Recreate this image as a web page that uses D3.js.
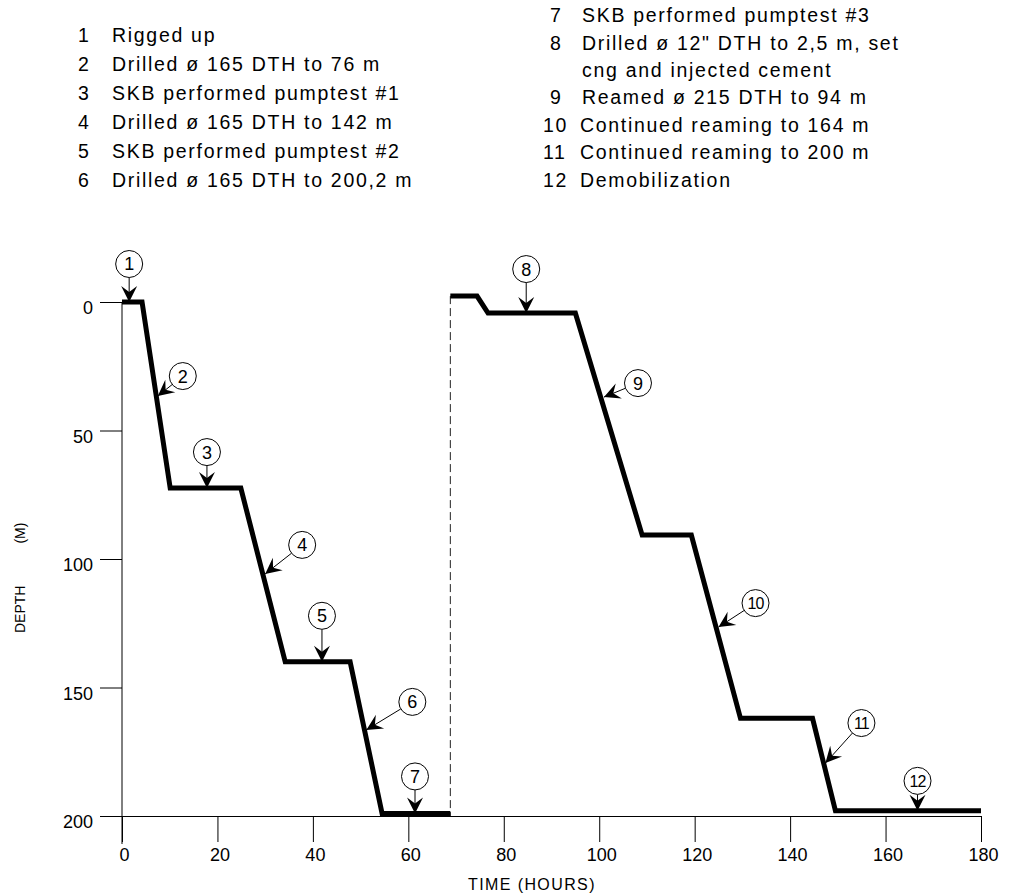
<!DOCTYPE html>
<html>
<head>
<meta charset="utf-8">
<script src="https://cdn.jsdelivr.net/npm/d3@7"></script>
<style>
  body { margin: 0; background: #fff; }
  svg { font-family: "Liberation Sans", Arial, sans-serif; }
  .axis path, .axis line { stroke: #000; stroke-width: 1; }
  .axis text { font-size: 18px; fill: #000; }
  .legend text { font-size: 19.5px; letter-spacing: 1.7px; fill: #000; }
</style>
</head>
<body>
<div id="chart"></div>
<script>
// drilling progress, first hole (left) and reaming (right)
var timeA  = [0, 4.2, 10.1, 24.9, 34.2, 47.8, 54.5, 68.8];
var depthA = [0, 0, 72.4, 72.4, 140, 140, 199, 199];
var timeB  = [68.8, 74.4, 76.7, 95, 109, 119.3, 129.6, 144.7, 149.5, 180];
var depthB = [-2.3, -2.3, 4.3, 4.3, 90.7, 90.7, 162, 162, 198, 198];

// numbered event markers (arrow tip on the curve)
var markerNum   = [1, 2, 3, 4, 5, 6, 7, 8, 9, 10, 11, 12];
var markerTime  = [1.5, 7.5, 17.8, 30, 41.9, 51.2, 61.4, 84.7, 101, 125, 147.4, 166.7];
var markerDepth = [0, 36.6, 72.4, 105.8, 140, 166.5, 199, 4.3, 37, 126.5, 179.4, 198];
// where the circle sits relative to the tip (pixels)
var markerOffX = [0, 25, 0, 37, 0, 46, 0, 0, 34, 37, 36, 0];
var markerOffY = [-38, -20, -36, -29, -46, -28, -37, -44, -14, -24, -40, -30];

var legendLeft = [
  "Rigged up",
  "Drilled ø 165 DTH to 76 m",
  "SKB performed pumptest #1",
  "Drilled ø 165 DTH to 142 m",
  "SKB performed pumptest #2",
  "Drilled ø 165 DTH to 200,2 m"
];
var legendRight = [
  "SKB performed pumptest #3",
  "Drilled ø 12\" DTH to 2,5 m, set",
  "cng and injected cement",
  "Reamed ø 215 DTH to 94 m",
  "Continued reaming to 164 m",
  "Continued reaming to 200 m",
  "Demobilization"
];
var legendRightNum = ["7", "8", "", "9", "10", "11", "12"];

var xTicks = [0, 20, 40, 60, 80, 100, 120, 140, 160, 180];
var yTicks = [0, 50, 100, 150, 200];

var margin = {top: 302, right: 30, bottom: 77, left: 122},
    width = 1011 - margin.left - margin.right,
    height = 893 - margin.top - margin.bottom;

var svg = d3.select("#chart").append("svg")
    .attr("width", 1011)
    .attr("height", 893);

// legend
var legL = svg.append("g").attr("class", "legend");
legendLeft.forEach(function(t, i) {
  var yy = 42 + i * 29;
  legL.append("text").attr("x", 78).attr("y", yy).text(i + 1);
  legL.append("text").attr("x", 112).attr("y", yy).text(t);
});
var rightBase = [22, 50, 77, 104, 132, 159, 187];
legendRight.forEach(function(t, i) {
  var yy = rightBase[i];
  var n = legendRightNum[i];
  if (n) legL.append("text").attr("x", n.length === 2 ? 543 : 550).attr("y", yy).text(n);
  legL.append("text").attr("x", n.length === 2 ? 580 : 582).attr("y", yy).text(t);
});

var g = svg.append("g")
    .attr("transform", "translate(" + margin.left + "," + margin.top + ")");

var x = d3.scaleLinear().domain([0, 180]).range([0, width]);
var y = d3.scaleLinear().domain([0, 200]).range([0, height]);

// axes
g.append("g")
    .attr("class", "axis")
    .attr("transform", "translate(0," + height + ")")
    .call(d3.axisBottom(x).tickValues(xTicks).tickSize(26).tickSizeOuter(0).tickPadding(6))
    .selectAll("text").attr("dx", "2px");

var yAx = g.append("g")
    .attr("class", "axis")
    .call(d3.axisLeft(y).tickValues(yTicks).tickSize(22).tickPadding(7));
yAx.select(".domain").remove();
yAx.selectAll("text").attr("dy", "0.65em");
g.append("line")
    .attr("x1", 0).attr("x2", 0)
    .attr("y1", y(0)).attr("y2", height + 28)
    .attr("stroke", "#000");

// dashed divider between the two runs
g.append("line")
    .attr("x1", x(timeB[0])).attr("x2", x(timeB[0]))
    .attr("y1", y(depthB[0])).attr("y2", y(200))
    .attr("stroke", "#222")
    .attr("stroke-dasharray", "8,4");

var line = d3.line()
    .x(function(d) { return x(d[0]); })
    .y(function(d) { return y(d[1]); });

[[timeA, depthA], [timeB, depthB]].forEach(function(s) {
  g.append("path")
      .datum(d3.zip(s[0], s[1]))
      .attr("fill", "none")
      .attr("stroke", "#000")
      .attr("stroke-width", 5)
      .attr("stroke-linejoin", "miter")
      .attr("d", line);
});

// markers
var r = 13.5;
markerNum.forEach(function(n, i) {
  var tx = x(markerTime[i]), ty = y(markerDepth[i]);
  var cx = tx + markerOffX[i], cy = ty + markerOffY[i];
  var ang = Math.atan2(ty - cy, tx - cx);
  var sx = cx + r * Math.cos(ang), sy = cy + r * Math.sin(ang);
  var m = g.append("g");
  m.append("line")
      .attr("x1", sx).attr("y1", sy).attr("x2", tx).attr("y2", ty)
      .attr("stroke", "#000").attr("stroke-width", 1);
  // barbed arrow head
  m.append("path")
      .attr("d", "M0,0 L-16,-8 L-10,0 L-16,8 Z")
      .attr("transform", "translate(" + tx + "," + ty + ") rotate(" + (ang * 180 / Math.PI) + ")")
      .attr("fill", "#000");
  m.append("circle")
      .attr("cx", cx).attr("cy", cy).attr("r", r)
      .attr("fill", "#fff").attr("stroke", "#000").attr("stroke-width", 1);
  m.append("text")
      .attr("x", cx).attr("y", cy)
      .attr("dy", "0.36em")
      .attr("text-anchor", "middle")
      .style("font-size", n > 9 ? "16px" : "18px")
      .style("letter-spacing", n > 9 ? "-0.8px" : "0")
      .text(n);
});

// axis titles
svg.append("text")
    .attr("x", 468).attr("y", 890)
    .style("font-size", "16px")
    .style("letter-spacing", "1.4px")
    .text("TIME (HOURS)");
var yt = svg.append("text")
    .attr("transform", "translate(25,633) rotate(-90)")
    .style("font-size", "14px");
yt.append("tspan").text("DEPTH");
yt.append("tspan").attr("dx", 42).text("(M)");
</script>
</body>
</html>
